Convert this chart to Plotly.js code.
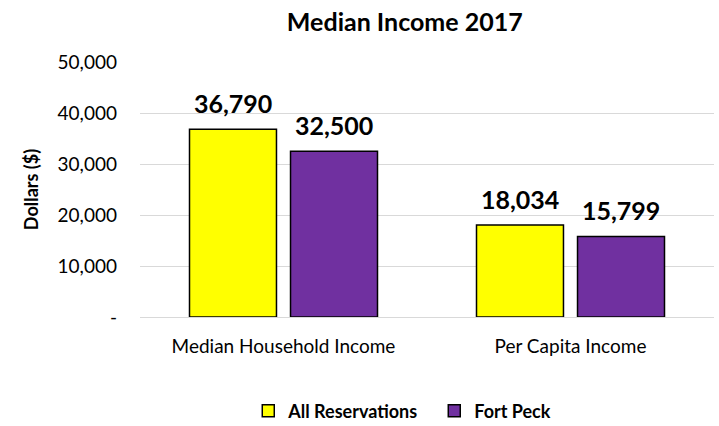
<!DOCTYPE html>
<html>
<head>
<meta charset="utf-8">
<script src="https://cdn.plot.ly/plotly-3.0.1.min.js"></script>
<style>html,body{margin:0;padding:0;background:#fff;}#chart{width:719px;height:426px;}</style>
</head>
<body>
<div id="chart"></div>
<script>
const categories = ["Median Household Income", "Per Capita Income"];
const seriesNames = ["All Reservations", "Fort Peck"];
const allReservations = [36790, 18034];
const fortPeck = [32500, 15799];
const tickValues = [0, 10000, 20000, 30000, 40000, 50000];
const tickLabels = ["-", "10,000", "20,000", "30,000", "40,000", "50,000"];
const colors = ["#FFFF00", "#7030A0"];

const FONT = "Lato, 'Open Sans', sans-serif";
const fmt = v => v.toLocaleString("en-US");

const seriesData = [allReservations, fortPeck];
const traces = seriesData.map((vals, i) => ({
  type: "bar",
  name: seriesNames[i],
  x: categories,
  y: vals,
  marker: {color: colors[i], line: {color: "#000000", width: 1.5}},
  hoverinfo: "none"
}));

const annotations = [];
seriesData.forEach((vals, i) => {
  vals.forEach((v, j) => {
    annotations.push({
      x: categories[j], y: v, xref: "x", yref: "y",
      text: "<b>" + fmt(v) + "</b>",
      showarrow: false, yanchor: "bottom",
      xshift: i === 0 ? -50.5 : 50.5, yshift: 9,
      font: {family: FONT, size: 25, color: "#000"}
    });
  });
});

const layout = {
  width: 719, height: 426,
  margin: {l: 140, r: 5, t: 62, b: 109},
  paper_bgcolor: "#fff", plot_bgcolor: "#fff",
  title: {text: "<b>Median Income 2017</b>", x: 0.563, xref: "container", y: 1 - 22/426, yref: "container", yanchor: "middle",
          font: {family: FONT, size: 25, color: "#000"}},
  barmode: "group", bargap: 0.296, bargroupgap: 0.139,
  xaxis: {
    tickfont: {family: FONT, size: 19, color: "#000"},
    showgrid: false, showline: false, ticks: "", zeroline: false,
    range: [-0.5, 1.5], ticklabelstandoff: 16
  },
  yaxis: {
    range: [0, 50000], tickvals: tickValues, ticktext: tickLabels,
    tickfont: {family: FONT, size: 19, color: "#000"},
    showgrid: true, gridcolor: "#d9d9d9", gridwidth: 1,
    zeroline: true, zerolinecolor: "#d9d9d9", zerolinewidth: 1,
    showline: false, ticks: "", ticklen: 0, ticklabelstandoff: 22,
    title: {text: "<b>Dollars ($)</b>", font: {family: FONT, size: 18, color: "#000"}, standoff: 14}
  },
  legend: {
    orientation: "h", x: 0.604, xref: "container", xanchor: "center",
    y: 0.035, yref: "container", yanchor: "middle",
    font: {family: FONT, size: 18, color: "#000", weight: "bold"},
    itemwidth: 30, entrywidth: 141
  },
  annotations: annotations,
  showlegend: true
};

Plotly.newPlot("chart", traces, layout, {displayModeBar: false, staticPlot: true});
</script>
</body>
</html>
